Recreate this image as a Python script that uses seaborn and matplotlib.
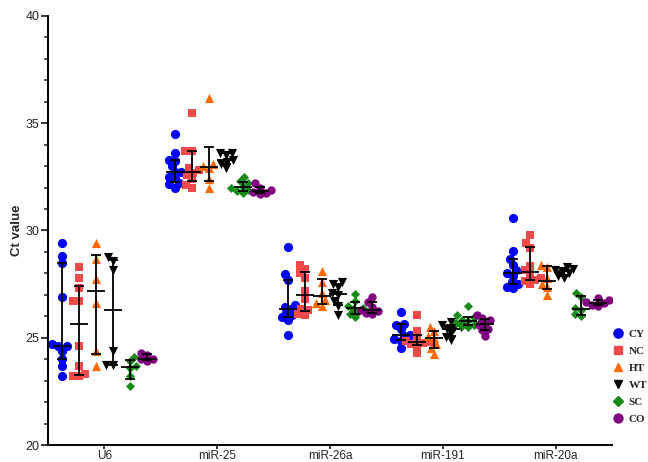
import numpy as np
import pandas as pd
import matplotlib
matplotlib.use("Agg")
import matplotlib.pyplot as plt
import seaborn as sns
from matplotlib.lines import Line2D

# ---------------- data ----------------
genes = ["U6", "miR-25", "miR-26a", "miR-191", "miR-20a"]
groups = ["CY", "NC", "HT", "WT", "SC", "CO"]

cy_ct = [
    [29.4, 28.8, 28.5, 26.9, 24.7, 24.6, 24.6, 24.4, 24.0, 23.7, 23.2],
    [34.5, 33.6, 33.3, 33.25, 33.0, 32.75, 32.75, 32.5, 32.45, 32.2, 32.15, 32.0],
    [29.25, 27.95, 27.7, 26.55, 26.45, 26.35, 26.15, 26.05, 25.95, 25.85, 25.15],
    [26.2, 25.65, 25.6, 25.4, 25.15, 25.1, 24.95, 24.85, 24.5],
    [30.6, 29.05, 28.65, 28.4, 28.15, 28.0, 27.9, 27.6, 27.5, 27.35, 27.3],
]
nc_ct = [
    [28.3, 27.8, 27.3, 26.7, 26.7, 24.6, 23.7, 23.3, 23.2, 23.2],
    [35.5, 33.7, 33.7, 32.9, 32.8, 32.7, 32.6, 32.4, 32.1, 32.0],
    [28.4, 28.2, 28.0, 27.8, 27.2, 26.8, 26.35, 26.3, 26.1, 26.05],
    [26.05, 25.3, 25.0, 24.85, 24.8, 24.75, 24.7, 24.6, 24.3],
    [29.8, 29.4, 29.2, 28.35, 28.15, 28.0, 27.8, 27.7, 27.65, 27.5],
]
ht_ct = [
    [29.4, 28.66, 27.72, 26.63, 24.4, 23.68],
    [36.2, 33.1, 33.0, 32.9, 32.4, 32.0],
    [28.1, 27.6, 27.1, 26.75, 26.6, 26.5],
    [25.5, 25.3, 25.1, 25.0, 24.7, 24.5, 24.25],
    [28.4, 28.3, 27.8, 27.5, 27.35, 27.0],
]
wt_ct = [
    [28.77, 28.59, 28.16, 24.4, 23.73, 23.73],
    [33.6, 33.6, 33.5, 33.3, 33.2, 33.1, 32.9],
    [27.6, 27.5, 27.35, 27.1, 27.0, 26.7, 26.5, 26.05],
    [25.75, 25.6, 25.5, 25.45, 25.4, 25.2, 25.05, 24.9],
    [28.3, 28.2, 28.15, 28.1, 28.0, 27.9, 27.8],
]
sc_ct = [
    [24.1, 23.9, 23.7, 23.6, 23.2, 22.75],
    [32.5, 32.3, 32.2, 32.05, 32.0, 31.9, 31.85, 31.75],
    [27.05, 26.7, 26.5, 26.4, 26.35, 26.2, 26.1, 25.95],
    [26.5, 26.05, 25.95, 25.85, 25.8, 25.75, 25.7, 25.6, 25.55, 25.5],
    [27.1, 26.9, 26.4, 26.3, 26.1, 26.0],
]
co_ct = [
    [24.3, 24.2, 24.0, 24.0, 23.9],
    [32.2, 32.0, 31.9, 31.8, 31.75, 31.7],
    [26.9, 26.65, 26.45, 26.3, 26.25, 26.15, 26.1],
    [26.05, 25.9, 25.85, 25.65, 25.6, 25.4, 25.35, 25.1],
    [26.85, 26.75, 26.65, 26.6, 26.55, 26.5],
]
group_values = [cy_ct, nc_ct, ht_ct, wt_ct, sc_ct, co_ct]

# ---------------- style ----------------
colors = ["#0000FF", "#F24A4A", "#FF6A00", "#000000", "#178A17", "#800080"]
markers = ["o", "s", "^", "v", "D", "o"]
msizes = [6.6, 6.4, 6.6, 6.6, 4.6, 6.0]
place_size = 4.4   # swarm packing size (markers may overlap, as in the reference)
hue_step = 0.15

rows = []
for gi, grp in enumerate(groups):
    for ki, gene in enumerate(genes):
        for v in group_values[gi][ki]:
            rows.append({"group": grp, "gene": gene, "gene_idx": ki, "hue_idx": gi, "ct": v})
df = pd.DataFrame(rows)
df["pos"] = df["gene_idx"] + (df["hue_idx"] - 2.5) * hue_step

sns.set_style("ticks")
plt.rcParams["font.family"] = ["Liberation Sans", "DejaVu Sans"]

fig = plt.figure(figsize=(6.48, 4.62), dpi=100)
ax = fig.add_axes([48 / 648, 17 / 462, 564 / 648, 429 / 462])

swarm_colls = []
for gi, grp in enumerate(groups):
    sub = df[df["group"] == grp]
    n_before = len(ax.collections)
    sns.swarmplot(data=sub, x="pos", y="ct", native_scale=True, orient="x",
                  color=colors[gi], marker=markers[gi], size=place_size,
                  linewidth=0, ax=ax, zorder=2, warn_thresh=1.0)
    for coll in ax.collections[n_before:]:
        swarm_colls.append((coll, gi))

# median with interquartile range
for gi, grp in enumerate(groups):
    sub = df[df["group"] == grp]
    for ki, gene in enumerate(genes):
        vals = sub.loc[sub["gene"] == gene, "ct"].to_numpy()
        q1, med, q3 = np.percentile(vals, [25, 50, 75], method="weibull")
        x = ki + (gi - 2.5) * hue_step
        ax.errorbar([x], [med], yerr=[[med - q1], [q3 - med]], fmt="none",
                    ecolor="black", elinewidth=1.3, capsize=3.8, capthick=1.3, zorder=4)
        ax.plot([x], [med], marker="_", markersize=13, markeredgewidth=1.3,
                color="black", zorder=4)

ax.set_xlim(-0.5, 4.5)
ax.set_ylim(20, 40)
ax.set_xticks(range(len(genes)))
ax.set_xticklabels(genes, fontsize=8.5)
ax.set_yticks([20, 25, 30, 35, 40])
ax.set_yticks(np.arange(20, 41, 1), minor=True)
ax.tick_params(axis="y", which="major", length=5, width=1.3, labelsize=9, pad=1)
ax.tick_params(axis="y", which="minor", length=3, width=1.1)
ax.tick_params(axis="x", which="major", length=3, width=1.3, pad=0.5)
ax.set_xlabel("")
ax.set_ylabel("Ct value", fontsize=9.5, fontweight="bold", labelpad=2)
for s in ["top", "right"]:
    ax.spines[s].set_visible(False)
for s in ["left", "bottom"]:
    ax.spines[s].set_linewidth(1.4)
    ax.spines[s].set_color("black")

handles = [Line2D([], [], linestyle="none", marker=m, color=c, markersize=ms)
           for m, c, ms in zip(markers, colors, [6.6, 6.0, 6.4, 6.4, 4.8, 6.4])]
leg = fig.legend(handles, groups, loc="upper left",
                 bbox_to_anchor=(612 / 648, 1 - 329 / 462), frameon=False,
                 handlelength=1.0, handletextpad=0.5, borderpad=0, borderaxespad=0,
                 labelspacing=0.66,
                 prop={"family": "Liberation Serif", "weight": "bold", "size": 8})

# lay out the swarms with the packing size, then show the full-size markers
fig.canvas.draw()
for coll, gi in swarm_colls:
    if "draw" in coll.__dict__:
        del coll.__dict__["draw"]
    coll.set_sizes([msizes[gi] ** 2])

fig.savefig("out.png", dpi=100)
